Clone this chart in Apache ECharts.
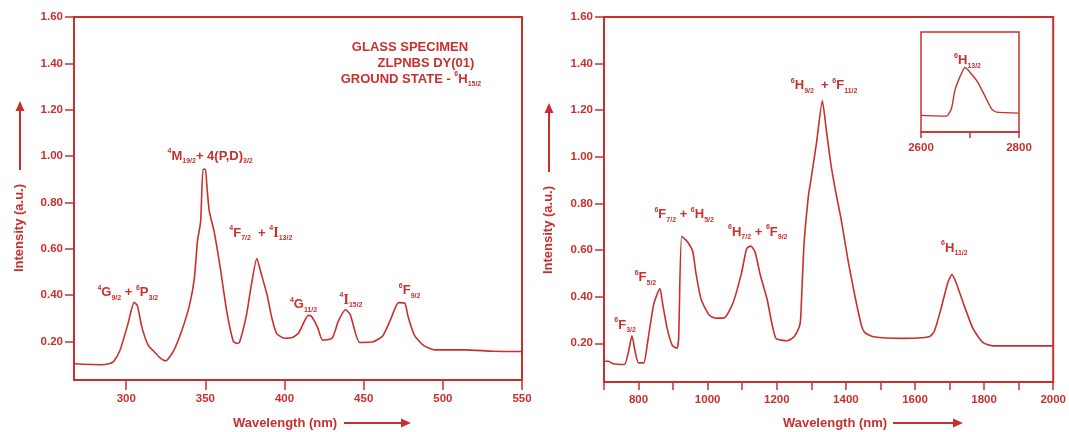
<!DOCTYPE html>
<html>
<head>
    <meta charset="utf-8">
    <title>ZLPNBS Dy(01) absorption spectrum</title>
    <script type="text/javascript" src="https://cdn.jsdelivr.net/npm/echarts@6/dist/echarts.min.js"></script>
    <style>
        html, body { margin: 0; padding: 0; background: #fff; }
        #chart { width: 1069px; height: 432px; }
    </style>
</head>
<body>
<div id="chart"></div>

<script type="text/javascript">
    var RED = '#c8302e';
    var FONT = '"Liberation Sans", Arial, sans-serif';

    // UV-VIS region (left panel)
    var uvWavelength = [267, 284, 289, 292, 296, 301, 305, 307, 310, 314, 317, 321, 325, 330, 335, 340, 343, 345, 347, 348.5,
        350, 351, 352.5, 355.5, 359.5, 363.5, 367.5, 369.5, 371.5, 376, 379, 382.5, 385, 389, 392, 395, 400, 405, 409, 415,
        417, 421, 424, 430, 434, 438.5, 441.5, 447.5, 456, 462, 467, 472, 476, 478, 482, 488, 495, 514, 532, 550];
    var uvIntensity = [0.104, 0.100, 0.104, 0.114, 0.161, 0.274, 0.369, 0.355, 0.259, 0.182, 0.161, 0.132, 0.117, 0.161, 0.245, 0.358, 0.471, 0.633, 0.718, 0.943,
        0.943, 0.866, 0.760, 0.675, 0.513, 0.330, 0.203, 0.192, 0.196, 0.316, 0.443, 0.558, 0.499, 0.400, 0.301, 0.235, 0.214, 0.217, 0.238, 0.313,
        0.309, 0.259, 0.206, 0.214, 0.288, 0.337, 0.316, 0.196, 0.199, 0.224, 0.295, 0.368, 0.365, 0.309, 0.228, 0.182, 0.164, 0.164, 0.158, 0.157];

    // NIR region (right panel)
    var nirWavelength = [700, 712, 727, 759, 771, 781, 790, 800, 815, 825, 844, 862, 869, 883, 898, 911, 916, 925, 942, 957,
        966, 981, 1005, 1025, 1049, 1074, 1098, 1113, 1125, 1137, 1152, 1172, 1186, 1198, 1230, 1250, 1265, 1269, 1279, 1292,
        1297, 1315, 1332, 1343, 1357, 1372, 1387, 1406, 1426, 1445, 1455, 1480, 1563, 1641, 1656, 1675, 1695, 1707, 1719, 1739,
        1768, 1797, 1827, 1893, 2000];
    var nirIntensity = [0.123, 0.123, 0.112, 0.109, 0.165, 0.232, 0.165, 0.116, 0.116, 0.193, 0.368, 0.435, 0.376, 0.263, 0.190, 0.179, 0.221, 0.659, 0.635, 0.593,
        0.502, 0.389, 0.320, 0.308, 0.310, 0.376, 0.502, 0.607, 0.617, 0.593, 0.495, 0.389, 0.284, 0.221, 0.211, 0.228, 0.270, 0.305, 0.628, 0.839,
        0.884, 1.060, 1.240, 1.120, 0.965, 0.839, 0.726, 0.558, 0.404, 0.277, 0.246, 0.228, 0.221, 0.228, 0.252, 0.347, 0.460, 0.495, 0.460, 0.376,
        0.263, 0.203, 0.189, 0.189, 0.189];

    // inset: 6H13/2 band
    var insetWavelength = [2600, 2652, 2662, 2669, 2679, 2690, 2703, 2716, 2730, 2744, 2754, 2800];
    var insetIntensity = [0.166, 0.159, 0.232, 0.414, 0.546, 0.645, 0.580, 0.497, 0.364, 0.232, 0.199, 0.189];

    // rich-text term symbol: ^sup L _sub
    function term(sup, letter, sub, style) {
        return '{sup|' + sup + '}{' + (style || 'main') + '|' + letter + '}{sub|' + sub + '}';
    }
    function plus(s) { return '{main|' + (s || ' + ') + '}'; }

    // band assignments and where they sit (wavelength, intensity)
    var uvBandNames = [
        term('4', 'G', '9/2') + plus() + term('6', 'P', '3/2'),
        term('4', 'M', '19/2') + plus('+ 4(P,D)') + '{sub|3/2}',
        term('4', 'F', '7/2') + plus('  + ') + term('4', 'I', '13/2', 'serif'),
        term('4', 'G', '11/2'),
        term('4', 'I', '15/2', 'serif'),
        term('6', 'F', '9/2')
    ];
    var uvBandAt = [[301, 0.41], [353, 1.0], [385, 0.668], [412, 0.358], [442, 0.379], [479, 0.419]];

    var nirBandNames = [
        term('6', 'F', '3/2'),
        term('6', 'F', '5/2'),
        term('6', 'F', '7/2') + plus() + term('6', 'H', '5/2'),
        term('6', 'H', '7/2') + plus() + term('6', 'F', '9/2'),
        term('6', 'H', '9/2') + plus('  + ') + term('6', 'F', '11/2'),
        term('6', 'H', '11/2')
    ];
    var nirBandAt = [[761, 0.277], [820, 0.481], [932, 0.752], [1145, 0.677], [1337, 1.305], [1714, 0.607]];

    var insetBandNames = [term('6', 'H', '13/2')];
    var insetBandAt = [[2695, 0.712]];

    var rich = {
        main: { fontSize: 13, fontWeight: 'bold', color: RED, fill: RED, fontFamily: FONT, lineHeight: 17 },
        serif: { fontSize: 14, fontWeight: 'bold', color: RED, fill: RED, fontFamily: '"Liberation Serif", serif', lineHeight: 17 },
        sup: { fontSize: 7, fontWeight: 'bold', color: RED, fill: RED, fontFamily: FONT, lineHeight: 8, verticalAlign: 'top' },
        sub: { fontSize: 7, fontWeight: 'bold', color: RED, fill: RED, fontFamily: FONT, lineHeight: 8, verticalAlign: 'bottom' }
    };

    function zip(xs, ys) {
        return xs.map(function (x, i) { return [x, ys[i]]; });
    }
    function bandMarks(names, at) {
        return {
            symbol: 'rect',
            symbolSize: 1,
            itemStyle: { color: 'transparent' },
            label: { show: true, position: 'inside', rich: rich },
            data: names.map(function (n, i) {
                return { coord: at[i], label: { formatter: n } };
            })
        };
    }

    var tickLabel = { color: RED, fontWeight: 'bold', fontSize: 11.5, fontFamily: FONT };
    function isMultiple(v, step) {
        var r = v / step;
        return Math.abs(r - Math.round(r)) < 1e-6;
    }
    function intensityAxis(grid) {
        return {
            gridIndex: grid, type: 'value', min: 0.034, max: 1.6, splitNumber: 8,
            axisLine: { show: true, lineStyle: { color: RED, width: 2 } },
            axisTick: { show: true, length: 9, lineStyle: { color: RED, width: 1.5 } },
            axisLabel: Object.assign({ margin: 11, showMinLabel: false, formatter: function (v) {
                return isMultiple(v, 0.2) ? v.toFixed(2) : '';
            } }, tickLabel),
            splitLine: { show: false }
        };
    }

    function arrow(x1, y1, x2, y2) {
        // line with a filled head at (x2, y2)
        var dx = x2 - x1, dy = y2 - y1, len = Math.sqrt(dx * dx + dy * dy);
        var ux = dx / len, uy = dy / len, hl = 10, hw = 4.5;
        var bx = x2 - ux * hl, by = y2 - uy * hl;
        return [
            { type: 'line', shape: { x1: x1, y1: y1, x2: bx, y2: by }, style: { stroke: RED, lineWidth: 2 } },
            { type: 'polygon', shape: { points: [[x2, y2], [bx - uy * hw, by + ux * hw], [bx + uy * hw, by - ux * hw]] }, style: { fill: RED } }
        ];
    }
    function label(text, x, y, size, rot) {
        return {
            type: 'text', x: x, y: y, rotation: rot || 0,
            style: { text: text, fill: RED, font: 'bold ' + size + 'px ' + FONT, align: 'center', verticalAlign: 'middle', rich: rich }
        };
    }

    var graphics = [
        label('GLASS SPECIMEN', 410, 47, 13),
        label('ZLPNBS DY(01)', 426, 63, 13),
        label('{main|GROUND STATE - }' + term('6', 'H', '15/2'), 411, 79, 13),
        label('Intensity (a.u.)', 19, 228, 13, Math.PI / 2),
        label('Intensity (a.u.)', 548, 230, 13, Math.PI / 2),
        label('Wavelength (nm)', 285, 423, 13),
        label('Wavelength (nm)', 835, 423, 13)
    ].concat(arrow(20, 170, 20, 101), arrow(549, 172, 549, 103), arrow(344, 423, 411, 423), arrow(893, 423, 963, 423));

    var chart = echarts.init(document.getElementById('chart'));
    var option = {
        animation: false,
        grid: [
            { left: 74, top: 17, width: 448, height: 363, show: true, borderColor: RED, borderWidth: 2 },
            { left: 604, top: 17, width: 452, height: 365, show: true, borderColor: RED, borderWidth: 2 },
            { left: 921, top: 32, width: 98, height: 100, show: true, borderColor: RED, borderWidth: 1.5 }
        ],
        xAxis: [
            {
                gridIndex: 0, type: 'value', min: 267, max: 550, splitNumber: 6,
                axisLine: { lineStyle: { color: RED, width: 2 } },
                axisTick: { length: 10, lineStyle: { color: RED, width: 1.5 } },
                axisLabel: Object.assign({ margin: 13, showMinLabel: false, formatter: function (v) {
                    return isMultiple(v, 50) ? String(v) : '';
                } }, tickLabel),
                splitLine: { show: false }
            },
            {
                gridIndex: 1, type: 'value', min: 700, max: 2000, interval: 100,
                axisLine: { lineStyle: { color: RED, width: 2 } },
                axisTick: { length: 8, lineStyle: { color: RED, width: 1.5 } },
                axisLabel: Object.assign({ margin: 12, formatter: function (v) {
                    return v % 200 === 0 ? String(v) : '';
                } }, tickLabel),
                splitLine: { show: false }
            },
            {
                gridIndex: 2, type: 'value', min: 2600, max: 2800, interval: 100,
                axisLine: { lineStyle: { color: RED, width: 1.5 } },
                axisTick: { length: 6, lineStyle: { color: RED, width: 1.5 } },
                axisLabel: Object.assign({ margin: 10, formatter: function (v) {
                    return v === 2700 ? '' : String(v);
                } }, tickLabel),
                splitLine: { show: false }
            }
        ],
        yAxis: [
            intensityAxis(0),
            intensityAxis(1),
            { gridIndex: 2, type: 'value', min: 0, max: 1, show: false }
        ],
        series: [
            {
                type: 'line', xAxisIndex: 0, yAxisIndex: 0, data: zip(uvWavelength, uvIntensity),
                symbol: 'none', smooth: 0.2, lineStyle: { color: RED, width: 1.6 },
                markPoint: bandMarks(uvBandNames, uvBandAt)
            },
            {
                type: 'line', xAxisIndex: 1, yAxisIndex: 1, data: zip(nirWavelength, nirIntensity),
                symbol: 'none', smooth: 0.2, lineStyle: { color: RED, width: 1.6 },
                markPoint: bandMarks(nirBandNames, nirBandAt)
            },
            {
                type: 'line', xAxisIndex: 2, yAxisIndex: 2, data: zip(insetWavelength, insetIntensity),
                symbol: 'none', smooth: 0.2, lineStyle: { color: RED, width: 1.4 },
                markPoint: bandMarks(insetBandNames, insetBandAt)
            }
        ],
        graphic: graphics
    };
    chart.setOption(option);
</script>
</body>
</html>
